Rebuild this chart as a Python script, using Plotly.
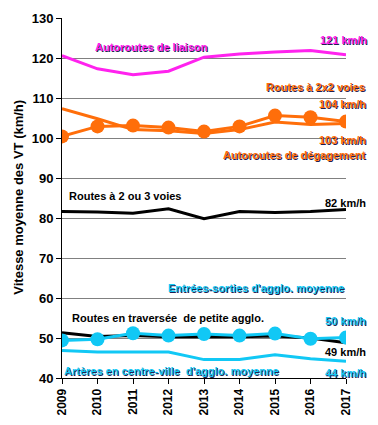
import plotly.graph_objects as go

years = [2009, 2010, 2011, 2012, 2013, 2014, 2015, 2016, 2017]
autoroutes_liaison = [120.6, 117.3, 115.8, 116.7, 120.2, 121.0, 121.5, 121.9, 120.8]
routes_2x2 = [100.4, 102.9, 103.1, 102.6, 101.6, 102.9, 105.6, 105.2, 104.1]
autoroutes_degagement = [107.3, 104.8, 102.1, 101.8, 101.1, 102.1, 104.0, 103.4, 103.6]
routes_2_3 = [81.6, 81.5, 81.2, 82.3, 79.8, 81.6, 81.4, 81.6, 82.1]
entrees_sorties = [49.4, 49.7, 51.2, 50.6, 51.0, 50.6, 51.1, 49.8, 50.1]
traversee = [51.3, 50.4, 50.6, 50.3, 50.4, 50.3, 50.5, 50.0, 48.8]
arteres = [46.9, 46.5, 46.5, 46.5, 44.6, 44.6, 45.8, 44.8, 44.2]

MAG = "#FF22EE"
ORA = "#FF6E0A"
CYA = "#11C8F5"
FONT = "Liberation Sans, Arial, sans-serif"

fig = go.Figure()
fig.add_trace(go.Scatter(x=years, y=autoroutes_liaison, mode="lines",
                         line=dict(color=MAG, width=3)))
fig.add_trace(go.Scatter(x=years, y=autoroutes_degagement, mode="lines",
                         line=dict(color=ORA, width=3)))
fig.add_trace(go.Scatter(x=years, y=routes_2x2, mode="lines+markers",
                         line=dict(color=ORA, width=3),
                         marker=dict(size=14, color=ORA)))
fig.add_trace(go.Scatter(x=years, y=routes_2_3, mode="lines",
                         line=dict(color="black", width=3)))
fig.add_trace(go.Scatter(x=years, y=traversee, mode="lines",
                         line=dict(color="black", width=3)))
fig.add_trace(go.Scatter(x=years, y=arteres, mode="lines",
                         line=dict(color=CYA, width=3)))
fig.add_trace(go.Scatter(x=years, y=entrees_sorties, mode="lines+markers",
                         line=dict(color=CYA, width=3),
                         marker=dict(size=14, color=CYA)))

# screen-pixel plot box of the reference (page has an 8px body margin)
L, R, T, B = 62, 346, 18.3, 378.3
OFF = 8
def P(x, y):
    return (x - L) / (R - L), (B - y) / (B - T)

def ann(text, x, y, color, anchor="left", shadow=True, size=11, angle=0):
    px, py = P(x, y)
    fig.add_annotation(
        text=text, x=px, y=py, xref="paper", yref="paper",
        xanchor=anchor, yanchor="middle", showarrow=False, textangle=angle,
        font=dict(family=FONT, size=size, color=color, weight="bold",
                  shadow="1px 1px 0px #202050" if shadow else "none"))

labels = [
    ("Autoroutes de liaison", 93, 47, MAG, "left", True),
    ("121 km/h", 369, 40, MAG, "right", True),
    ("Routes à 2x2 voies", 367, 87, ORA, "right", True),
    ("104 km/h", 368, 104, ORA, "right", True),
    ("103 km/h", 368, 140, ORA, "right", True),
    ("Autoroutes de dégagement", 368, 155, ORA, "right", True),
    ("Routes à 2 ou 3 voies", 67, 196, "black", "left", False),
    ("82 km/h", 368, 203, "black", "right", False),
    ("Entrées-sorties d'agglo. moyenne", 346, 288, CYA, "right", True),
    ("Routes en traversée  de petite agglo.", 70, 318, "black", "left", False),
    ("50 km/h", 368, 321, CYA, "right", True),
    ("49 km/h", 368, 352, "black", "right", False),
    ("Artères en centre-ville  d'agglo. moyenne", 62, 371, CYA, "left", True),
    ("44 km/h", 368, 373, CYA, "right", True),
]
for t, x, y, c, a, s in labels:
    ann(t, x, y, c, a, s)

ann("Vitesse moyenne des VT (km/h)", 19, 198, "black", "center", False, size=13, angle=-90)

W, H = 378 - OFF, 425 - OFF
fig.update_layout(
    width=W, height=H,
    margin=dict(l=L - OFF, r=W - (R - OFF), t=T - OFF, b=H - (B - OFF), autoexpand=False),
    paper_bgcolor="white", plot_bgcolor="white",
    showlegend=False,
    font=dict(family=FONT, color="black"),
    xaxis=dict(range=[2009, 2017], tickmode="array", tickvals=years,
               ticktext=[str(y) for y in years], tickangle=-90,
               ticks="outside", ticklen=5, tickcolor="black",
               showgrid=False, zeroline=False, showline=True, automargin=False,
               linecolor="black", linewidth=1,
               tickfont=dict(size=12, weight="bold", family=FONT)),
    yaxis=dict(range=[40, 130], tickvals=[40, 50, 60, 70, 80, 90, 100, 110, 120, 130],
               ticks="outside", ticklen=5, tickcolor="black", automargin=False,
               showgrid=True, gridcolor="#808080", gridwidth=1,
               zeroline=False, showline=True, linecolor="black", linewidth=1,
               tickfont=dict(size=13, weight="bold", family=FONT)),
)

fig.write_html("out.html")
